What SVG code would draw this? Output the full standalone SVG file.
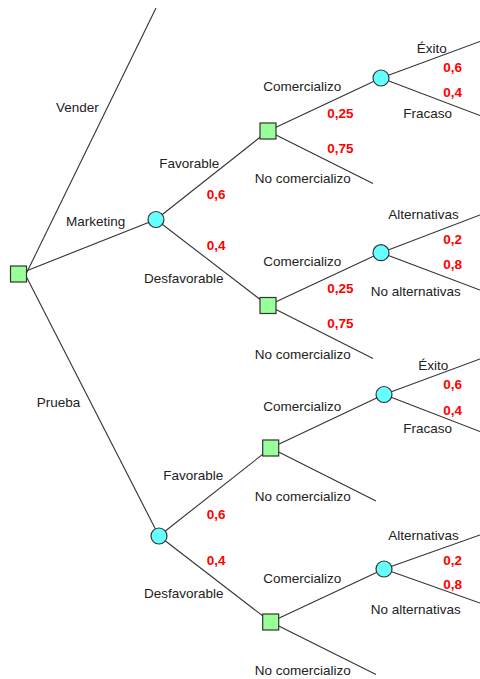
<svg xmlns="http://www.w3.org/2000/svg" width="480" height="679" viewBox="0 0 480 679">
<style>
.ln{stroke:#333;stroke-width:1.1;fill:none}
.dec{fill:#99ff99;stroke:#333;stroke-width:1.2}
.ch{fill:#66ffff;stroke:#333;stroke-width:1.2}
text{font-family:"Liberation Sans",Arial,sans-serif;font-size:13.5px;fill:#222}
text.p{fill:#ff0000;font-weight:bold}
</style>
<rect width="480" height="679" fill="#fff"/>
<g id="connectors">
<line class="ln" x1="26.5" y1="273" x2="156" y2="8"/>
<line class="ln" x1="18.5" y1="274" x2="156" y2="219.5"/>
<line class="ln" x1="26" y1="276" x2="159" y2="536"/>
<line class="ln" x1="156" y1="219.5" x2="268" y2="131"/>
<line class="ln" x1="156" y1="219.5" x2="268" y2="305.5"/>
<line class="ln" x1="268" y1="131" x2="381" y2="78"/>
<line class="ln" x1="268" y1="131" x2="373" y2="183.5"/>
<line class="ln" x1="381" y1="78" x2="480" y2="41.5"/>
<line class="ln" x1="381" y1="78" x2="480" y2="115.5"/>
<line class="ln" x1="268" y1="305.5" x2="381" y2="252.7"/>
<line class="ln" x1="268" y1="305.5" x2="373" y2="358.5"/>
<line class="ln" x1="381" y1="252.7" x2="480" y2="215"/>
<line class="ln" x1="381" y1="252.7" x2="480" y2="290"/>
<line class="ln" x1="159" y1="536" x2="270.7" y2="448"/>
<line class="ln" x1="159" y1="536" x2="270.7" y2="622"/>
<line class="ln" x1="270.7" y1="448" x2="384" y2="394.5"/>
<line class="ln" x1="270.7" y1="448" x2="376" y2="501"/>
<line class="ln" x1="384" y1="394.5" x2="480" y2="359"/>
<line class="ln" x1="384" y1="394.5" x2="480" y2="431.5"/>
<line class="ln" x1="270.7" y1="622" x2="384" y2="569"/>
<line class="ln" x1="270.7" y1="622" x2="376" y2="674.5"/>
<line class="ln" x1="384" y1="569" x2="480" y2="535"/>
<line class="ln" x1="384" y1="569" x2="480" y2="603"/>
</g>
<g id="root"><rect class="dec" x="10.5" y="266" width="16" height="16"/></g>
<g id="marketing"><circle class="ch" cx="156" cy="219.5" r="8"/></g>
<g id="prueba"><circle class="ch" cx="159" cy="536" r="8"/></g>
<g id="dec-m-fav"><rect class="dec" x="260" y="123" width="16" height="16"/></g>
<g id="dec-m-desf"><rect class="dec" x="260" y="297.5" width="16" height="16"/></g>
<g id="dec-p-fav"><rect class="dec" x="262.7" y="440" width="16" height="16"/></g>
<g id="dec-p-desf"><rect class="dec" x="262.7" y="614" width="16" height="16"/></g>
<g id="ch-m-fav"><circle class="ch" cx="381" cy="78" r="8"/></g>
<g id="ch-m-desf"><circle class="ch" cx="381" cy="252.7" r="8"/></g>
<g id="ch-p-fav"><circle class="ch" cx="384" cy="394.5" r="8"/></g>
<g id="ch-p-desf"><circle class="ch" cx="384" cy="569" r="8"/></g>
<g id="labels">
<text x="56" y="112">Vender</text>
<text x="66" y="226">Marketing</text>
<text x="36.7" y="407">Prueba</text>
<text x="159.3" y="168">Favorable</text>
<text class="p" x="206.7" y="199">0,6</text>
<text class="p" x="206.7" y="250">0,4</text>
<text x="144" y="283">Desfavorable</text>
<text x="263.3" y="90.7">Comercializo</text>
<text class="p" x="327.3" y="118">0,25</text>
<text class="p" x="327.3" y="153">0,75</text>
<text x="254.7" y="183">No comercializo</text>
<text x="416.7" y="53">Éxito</text>
<text class="p" x="443.3" y="71.5">0,6</text>
<text class="p" x="443.3" y="96.5">0,4</text>
<text x="403.3" y="118">Fracaso</text>
<text x="388.3" y="219">Alternativas</text>
<text class="p" x="443.3" y="243.7">0,2</text>
<text class="p" x="443.3" y="268.7">0,8</text>
<text x="263.3" y="265.7">Comercializo</text>
<text class="p" x="327.3" y="293">0,25</text>
<text x="370.7" y="295.7">No alternativas</text>
<text class="p" x="327.3" y="328">0,75</text>
<text x="254.7" y="359">No comercializo</text>
<text x="418.3" y="370.3">Éxito</text>
<text class="p" x="443.3" y="388.7">0,6</text>
<text class="p" x="443.3" y="414.7">0,4</text>
<text x="403.3" y="433">Fracaso</text>
<text x="263.3" y="411.3">Comercializo</text>
<text x="163.3" y="480">Favorable</text>
<text class="p" x="206.7" y="518.7">0,6</text>
<text class="p" x="206.7" y="565.3">0,4</text>
<text x="144" y="598">Desfavorable</text>
<text x="254.7" y="501.3">No comercializo</text>
<text x="388.3" y="539.7">Alternativas</text>
<text class="p" x="443.3" y="564.7">0,2</text>
<text class="p" x="443.3" y="589">0,8</text>
<text x="263.3" y="583">Comercializo</text>
<text x="370.7" y="613.7">No alternativas</text>
<text x="254.7" y="674.7">No comercializo</text>
</g>
</svg>
